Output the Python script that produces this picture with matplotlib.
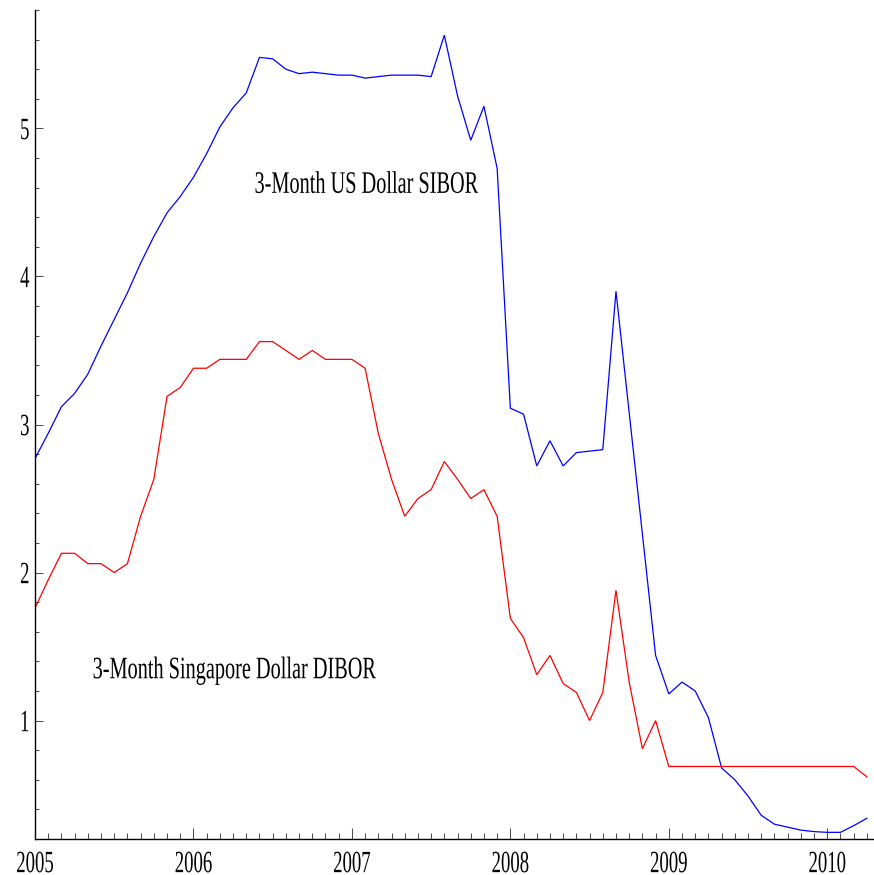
import numpy as np
import pandas as pd
import matplotlib
matplotlib.use("Agg")
import matplotlib.pyplot as plt
from matplotlib.patheffects import AbstractPathEffect
from matplotlib.transforms import Affine2D
from matplotlib.ticker import MultipleLocator, FixedLocator

# Monthly observations, Jan 2005 - Apr 2010
months = pd.period_range("2005-01", "2010-04", freq="M")

usd_sibor = [
    2.77, 2.94, 3.12, 3.21, 3.34, 3.53, 3.71, 3.89, 4.09, 4.27, 4.43, 4.54,
    4.67, 4.83, 5.01, 5.14, 5.24, 5.48, 5.47, 5.40, 5.37, 5.38, 5.37, 5.36,
    5.36, 5.34, 5.35, 5.36, 5.36, 5.36, 5.35, 5.63, 5.22, 4.92, 5.15, 4.73,
    3.11, 3.07, 2.72, 2.89, 2.72, 2.81, 2.82, 2.83, 3.90, 3.08, 2.26, 1.44,
    1.18, 1.26, 1.20, 1.02, 0.68, 0.60, 0.49, 0.36, 0.30, 0.28, 0.26, 0.25,
    0.245, 0.245, 0.29, 0.34,
]

sgd_dibor = [
    1.76, 1.95, 2.13, 2.13, 2.06, 2.06, 2.00, 2.06, 2.38, 2.63, 3.19, 3.25,
    3.38, 3.38, 3.44, 3.44, 3.44, 3.56, 3.56, 3.50, 3.44, 3.50, 3.44, 3.44,
    3.44, 3.38, 2.94, 2.63, 2.38, 2.50, 2.56, 2.75, 2.63, 2.50, 2.56, 2.38,
    1.69, 1.56, 1.31, 1.44, 1.25, 1.19, 1.00, 1.19, 1.88, 1.26, 0.81, 1.00,
    0.69, 0.69, 0.69, 0.69, 0.69, 0.69, 0.69, 0.69, 0.69, 0.69, 0.69, 0.69,
    0.69, 0.69, 0.69, 0.62,
]

year_ticks = [2005, 2006, 2007, 2008, 2009, 2010]
rate_ticks = [1, 2, 3, 4, 5]

usd_label = "3-Month US Dollar SIBOR"
sgd_label = "3-Month Singapore Dollar DIBOR"


class VerticalStretch(AbstractPathEffect):
    """Draw glyphs taller than wide, keeping one glyph height fixed."""

    def __init__(self, factor, anchor=0.0):
        super().__init__()
        self.factor = factor
        self.anchor = anchor  # in glyph units (100 per em)

    def draw_path(self, renderer, gc, tpath, affine, rgbFace=None):
        pre = (Affine2D().translate(0, -self.anchor)
               .scale(1, self.factor).translate(0, self.anchor))
        renderer.draw_path(gc, tpath, pre + affine, rgbFace)


plt.rcParams["font.family"] = ["Liberation Serif", "DejaVu Serif"]

x = np.array([m.year + (m.month - 1) / 12 for m in months])

fig = plt.figure(figsize=(8.74, 8.75), dpi=100)
ax = fig.add_axes([35 / 874, 36 / 875, 839 / 874, 829 / 875])

ax.plot(x, usd_sibor, color=(0, 0, 1), lw=0.9, solid_joinstyle="miter")
ax.plot(x, sgd_dibor, color=(1, 0, 0), lw=0.9, solid_joinstyle="miter")

ax.set_xlim(2005, 2010.295)
ax.set_ylim(0.2, 5.8)

for side in ("top", "right"):
    ax.spines[side].set_visible(False)
for side in ("left", "bottom"):
    ax.spines[side].set_linewidth(1.0)
    ax.spines[side].set_color("black")

ax.xaxis.set_major_locator(FixedLocator(year_ticks))
ax.xaxis.set_minor_locator(MultipleLocator(1 / 12))
ax.yaxis.set_major_locator(FixedLocator(rate_ticks))
ax.yaxis.set_minor_locator(MultipleLocator(0.2))
ax.set_xticklabels([str(y) for y in year_ticks])
ax.set_yticklabels([str(r) for r in rate_ticks])

ax.tick_params(axis="x", which="major", direction="in", length=7.9, width=0.75,
               color="0.3", pad=16.2, labelsize=13.5)
ax.tick_params(axis="x", which="minor", direction="in", length=4.3, width=0.75,
               color="0.3")
ax.tick_params(axis="y", which="major", direction="in", length=5.5, width=0.75,
               color="0.3", pad=4.0, labelsize=13.5)
ax.tick_params(axis="y", which="minor", direction="in", length=3.1, width=0.75,
               color="0.3")

tick_effect = [VerticalStretch(1.65, anchor=34)]
for lab in ax.get_xticklabels():
    lab.set_verticalalignment("center_baseline")
    lab.set_path_effects(tick_effect)
for lab in ax.get_yticklabels():
    lab.set_path_effects(tick_effect)

label_effect = [VerticalStretch(1.54)]
ax.text(2007.09, 4.565, usd_label, ha="center", va="baseline", fontsize=14.6,
        color="black", path_effects=label_effect)
ax.text(2006.256, 1.286, sgd_label, ha="center", va="baseline", fontsize=14.6,
        color="black", path_effects=label_effect)

fig.savefig("out.png", dpi=100)
